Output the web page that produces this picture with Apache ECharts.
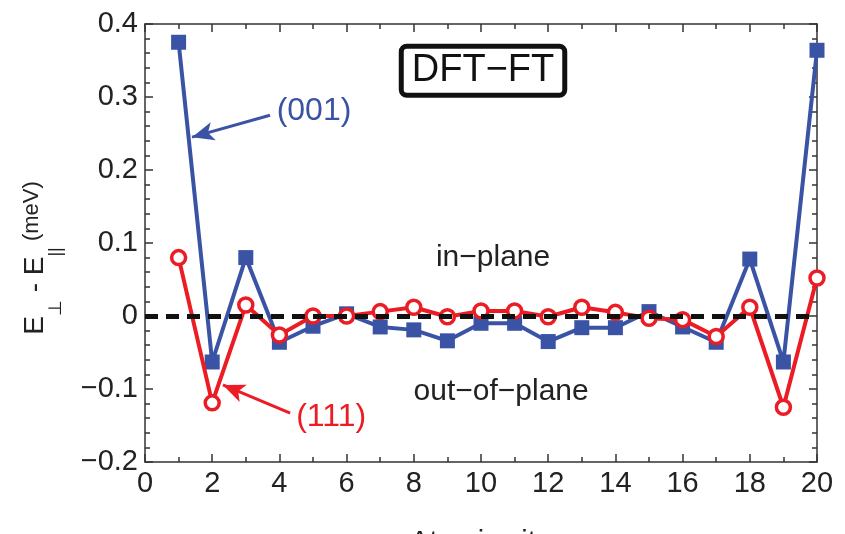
<!DOCTYPE html>
<html>
<head>
<meta charset="utf-8">
<script src="https://cdn.jsdelivr.net/npm/echarts@6/dist/echarts.min.js"></script>
<style>
  html, body { margin: 0; padding: 0; background: #fff; }
  #chart { width: 845px; height: 534px; }
</style>
</head>
<body>
<div id="chart"></div>
<script>
// Anisotropy energy per atomic site.
const sites = [1, 2, 3, 4, 5, 6, 7, 8, 9, 10, 11, 12, 13, 14, 15, 16, 17, 18, 19, 20];
const e001 = [0.375, -0.063, 0.080, -0.036, -0.014, 0.003, -0.015, -0.019, -0.034, -0.010,
              -0.010, -0.035, -0.016, -0.016, 0.006, -0.015, -0.036, 0.078, -0.063, 0.364];
const e111 = [0.080, -0.119, 0.015, -0.026, 0.000, 0.000, 0.006, 0.012, -0.001, 0.007,
              0.007, -0.001, 0.012, 0.005, -0.003, -0.005, -0.028, 0.012, -0.125, 0.052];

// Annotation anchors (data coordinates)
const label001 = [5.03, 0.28];
const arrow001 = [[3.72, 0.275], [1.40, 0.245]];
const label111 = [5.54, -0.138];
const arrow111 = [[4.32, -0.133], [2.32, -0.0945]];
const boxLabel = [10.06, 0.336];
const inPlane = [10.36, 0.080];
const outPlane = [10.6, -0.104];
const zeroLine = [[0, 0], [20, 0]];

const BLUE = "#3a53a4";
const RED = "#ec1c24";
const FONT = "Liberation Sans";

const fmtY = (v) => {
  const r = Math.round(v * 10) / 10;
  if (r === 0) return "0";
  return r < 0 ? "\u2212" + Math.abs(r) : String(r);
};

function textPoint(coord, text, color, size, extra) {
  return {
    coord,
    symbol: "circle",
    symbolSize: 1,
    itemStyle: { color: "transparent" },
    label: Object.assign({
      show: true,
      position: "inside",
      formatter: text,
      color,
      fontFamily: FONT,
      fontSize: size,
    }, extra || {}),
  };
}

const axisLine = { show: true, onZero: false, lineStyle: { color: "#333", width: 1.5 } };
const tick = { show: true, inside: true, length: 8, lineStyle: { color: "#333", width: 1.5 } };
const minor = (n) => ({ show: true, splitNumber: n, length: 5, lineStyle: { color: "#333", width: 1.5 } });

const chart = echarts.init(document.getElementById("chart"), null, { renderer: "canvas" });
chart.setOption({
  animation: false,
  backgroundColor: "#fff",
  grid: { left: 145, right: 28, top: 24, bottom: 72, containLabel: false, outerBoundsMode: "none" },
  xAxis: [
    {
      type: "value", min: 0, max: 20, interval: 2, position: "bottom",
      axisLine, axisTick: tick, minorTick: minor(2),
      splitLine: { show: false },
      axisLabel: { color: "#222", fontFamily: FONT, fontSize: 29, margin: 7 },
      name: "Atomic site", nameLocation: "middle", nameGap: 66,
      nameTextStyle: { color: "#222", fontFamily: FONT, fontSize: 29 },
    },
    {
      type: "value", min: 0, max: 20, interval: 2, position: "top",
      axisLine, axisTick: tick, minorTick: minor(2),
      splitLine: { show: false }, axisLabel: { show: false },
    },
  ],
  yAxis: [
    {
      type: "value", min: -0.2, max: 0.4, interval: 0.1, position: "left",
      axisLine, axisTick: tick, minorTick: minor(5),
      splitLine: { show: false },
      axisLabel: { color: "#222", fontFamily: FONT, fontSize: 29, margin: 7, formatter: fmtY },
      name: "{e|E}{s|\u22a5}{e| - E}{s|||}{m| (meV)}",
      nameLocation: "middle", nameRotate: 90, nameGap: 104,
      nameTextStyle: {
        color: "#222",
        fontFamily: FONT,
        rich: {
          e: { fontSize: 28, lineHeight: 28, verticalAlign: "top", padding: [8, 0, 0, 0], fontFamily: FONT, color: "#222" },
          s: { fontSize: 18, lineHeight: 18, verticalAlign: "top", padding: [34, 0, 0, 0], fontFamily: FONT, color: "#222" },
          m: { fontSize: 22, lineHeight: 22, verticalAlign: "top", padding: [8, 30, 0, 0], fontFamily: FONT, color: "#222" },
        },
      },
    },
    {
      type: "value", min: -0.2, max: 0.4, interval: 0.1, position: "right",
      axisLine, axisTick: tick, minorTick: minor(5),
      splitLine: { show: false }, axisLabel: { show: false },
    },
  ],
  series: [
    {
      name: "(001)",
      type: "line",
      z: 2,
      silent: true,
      data: sites.map((s, i) => [s, e001[i]]),
      symbol: "rect",
      symbolSize: 15,
      lineStyle: { color: BLUE, width: 4 },
      itemStyle: { color: BLUE },
      markLine: {
        silent: true,
        symbol: ["none", "none"],
        label: { show: false },
        lineStyle: { color: BLUE, width: 3, type: "solid" },
        data: [
          [
            { coord: arrow001[0], symbol: "none" },
            { coord: arrow001[1], symbol: "arrow", symbolSize: [14, 22] },
          ],
          [
            { coord: zeroLine[0], symbol: "none", lineStyle: { color: "#111", width: 5, type: [13, 8] } },
            { coord: zeroLine[1], symbol: "none" },
          ],
        ],
      },
      markPoint: {
        silent: true,
        data: [
          textPoint(label001, "(001)", BLUE, 32),
          textPoint(boxLabel, "DFT\u2212FT", "#111", 38, {
            borderColor: "#111", borderWidth: 5, borderRadius: 3,
            backgroundColor: "#fff", padding: [4, 8, 2, 8],
          }),
          textPoint(inPlane, "in\u2212plane", "#222", 30),
          textPoint(outPlane, "out\u2212of\u2212plane", "#222", 30),
        ],
      },
    },
    {
      name: "(111)",
      type: "line",
      z: 3,
      silent: true,
      data: sites.map((s, i) => [s, e111[i]]),
      symbol: "circle",
      symbolSize: 14,
      lineStyle: { color: RED, width: 4 },
      itemStyle: { color: "#fff", borderColor: RED, borderWidth: 3.5 },
      markLine: {
        silent: true,
        symbol: ["none", "none"],
        label: { show: false },
        lineStyle: { color: RED, width: 3, type: "solid" },
        data: [
          [
            { coord: arrow111[0], symbol: "none" },
            { coord: arrow111[1], symbol: "arrow", symbolSize: [14, 22] },
          ],
        ],
      },
      markPoint: {
        silent: true,
        data: [textPoint(label111, "(111)", RED, 32)],
      },
    },
  ],
});
</script>
</body>
</html>
